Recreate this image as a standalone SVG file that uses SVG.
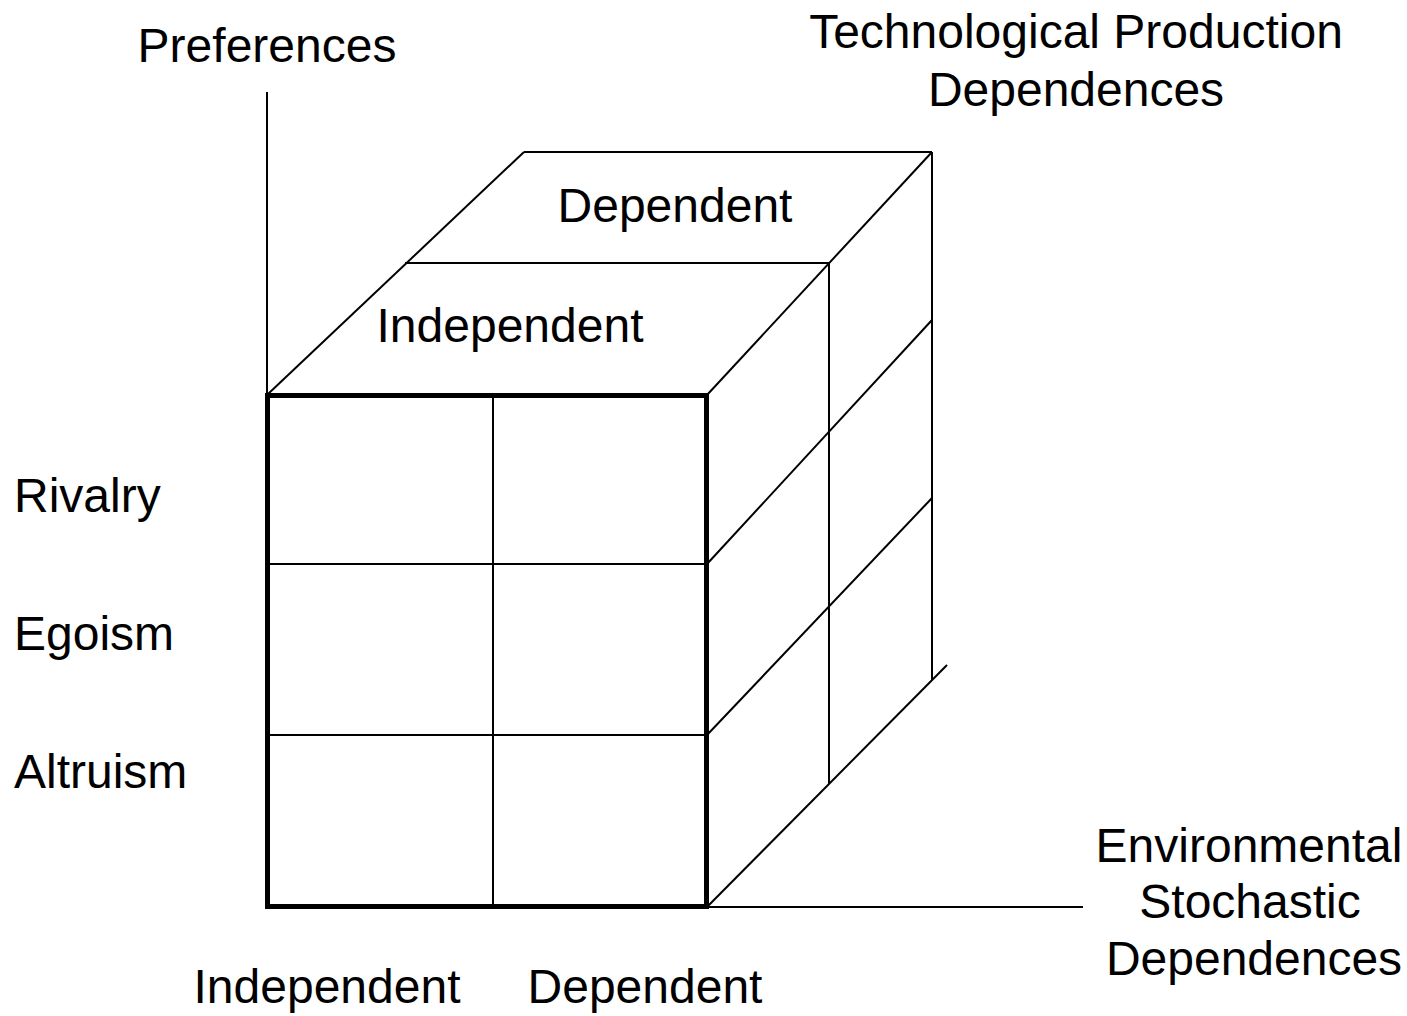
<svg xmlns="http://www.w3.org/2000/svg" width="1407" height="1016" viewBox="0 0 1407 1016">
  <style>
    text { font-family: "Liberation Sans", Arial, sans-serif; font-size: 48px; fill: #000; }
    .mid { text-anchor: middle; }
    .thin { stroke: #000; stroke-width: 2; fill: none; }
    .thick { stroke: #000; stroke-width: 5; fill: none; }
  </style>
  <rect width="1407" height="1016" fill="#fff"/>

  <g id="connectors">
    <!-- axes -->
    <line class="thin" x1="267" y1="92" x2="267" y2="395"/>
    <line class="thin" x1="707" y1="907" x2="1083" y2="907"/>
    <line class="thin" x1="707" y1="907" x2="947" y2="665"/>
    <!-- top face -->
    <line class="thin" x1="268" y1="394" x2="524" y2="152"/>
    <line class="thin" x1="524" y1="152" x2="932" y2="152"/>
    <line class="thin" x1="707" y1="395" x2="932" y2="152"/>
    <line class="thin" x1="405" y1="263" x2="829" y2="263"/>
    <!-- right face -->
    <line class="thin" x1="932" y1="152" x2="932" y2="680"/>
    <line class="thin" x1="829" y1="263" x2="829" y2="784"/>
    <line class="thin" x1="707" y1="564" x2="932" y2="320"/>
    <line class="thin" x1="707" y1="735" x2="932" y2="498"/>
    <!-- front grid -->
    <line class="thin" x1="493" y1="395" x2="493" y2="906"/>
    <line class="thin" x1="267" y1="564" x2="707" y2="564"/>
    <line class="thin" x1="267" y1="735" x2="707" y2="735"/>
  </g>

  <g id="front-face">
    <rect class="thick" x="267.5" y="395.5" width="439" height="511"/>
  </g>

  <g id="label-preferences"><text class="mid" x="267" y="62">Preferences</text></g>
  <g id="label-technological">
    <text class="mid" x="1076" y="48">Technological Production</text>
    <text class="mid" x="1076" y="106">Dependences</text>
  </g>
  <g id="label-top-dependent"><text class="mid" x="675" y="222">Dependent</text></g>
  <g id="label-top-independent"><text class="mid" x="510" y="342">Independent</text></g>
  <g id="label-rivalry"><text x="14" y="512">Rivalry</text></g>
  <g id="label-egoism"><text x="14" y="650">Egoism</text></g>
  <g id="label-altruism"><text x="14" y="788">Altruism</text></g>
  <g id="label-environmental">
    <text class="mid" x="1249" y="862">Environmental</text>
    <text class="mid" x="1250" y="918">Stochastic</text>
    <text class="mid" x="1254" y="975">Dependences</text>
  </g>
  <g id="label-bottom-independent"><text class="mid" x="327" y="1003">Independent</text></g>
  <g id="label-bottom-dependent"><text class="mid" x="645" y="1003">Dependent</text></g>
</svg>
